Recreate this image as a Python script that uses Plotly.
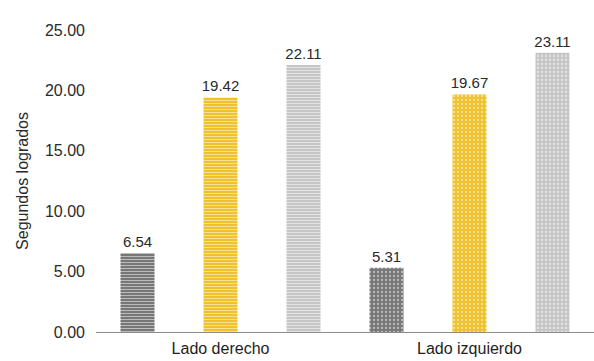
import plotly.graph_objects as go

categories = ["Lado derecho", "Lado izquierdo"]
series_names = ["Serie 1", "Serie 2", "Serie 3"]
series_values = [
    [6.54, 5.31],
    [19.42, 19.67],
    [22.11, 23.11],
]
series_colors = ["#777777", "#efc12c", "#c6c6c6"]
y_ticks = [0, 5, 10, 15, 20, 25]

FONT = "Liberation Sans, Arial, sans-serif"

fig = go.Figure()
for name, vals, col in zip(series_names, series_values, series_colors):
    fig.add_trace(go.Bar(
        x=categories,
        y=vals,
        name=name,
        text=[f"{v:.2f}" for v in vals],
        textposition="outside",
        constraintext="none",
        textfont=dict(family=FONT, size=15, color="#2a2a2a"),
        cliponaxis=False,
        marker=dict(
            color=col,
            line=dict(width=0),
            pattern=dict(
                shape=["-", "."],
                fillmode="overlay",
                fgcolor=["#ffffff", "#ffffff"],
                bgcolor=[col, col],
                size=[3, 4],
                solidity=[0.35, 0.25],
            ),
        ),
    ))

fig.update_layout(
    width=594,
    height=361,
    margin=dict(l=96, r=0, t=30, b=29),
    paper_bgcolor="white",
    plot_bgcolor="white",
    barmode="group",
    bargap=0.0,
    bargroupgap=0.59,
    showlegend=False,
    font=dict(family=FONT, size=15, color="#2a2a2a"),
    xaxis=dict(
        showline=True,
        linecolor="#8f8a88",
        linewidth=1,
        ticks="",
        automargin=False,
        tickfont=dict(size=16, color="#1e1e1e"),
        ticklabelstandoff=2,
    ),
    yaxis=dict(
        range=[0, 25],
        tickvals=y_ticks,
        tickformat=".2f",
        showgrid=False,
        zeroline=False,
        showline=False,
        ticks="",
        automargin=False,
        ticklabelstandoff=10,
        tickfont=dict(size=16, color="#2a2a2a"),
        title=dict(text="Segundos logrados", font=dict(size=16, color="#2a2a2a"), standoff=12),
    ),
)

fig.write_html("out.html")
